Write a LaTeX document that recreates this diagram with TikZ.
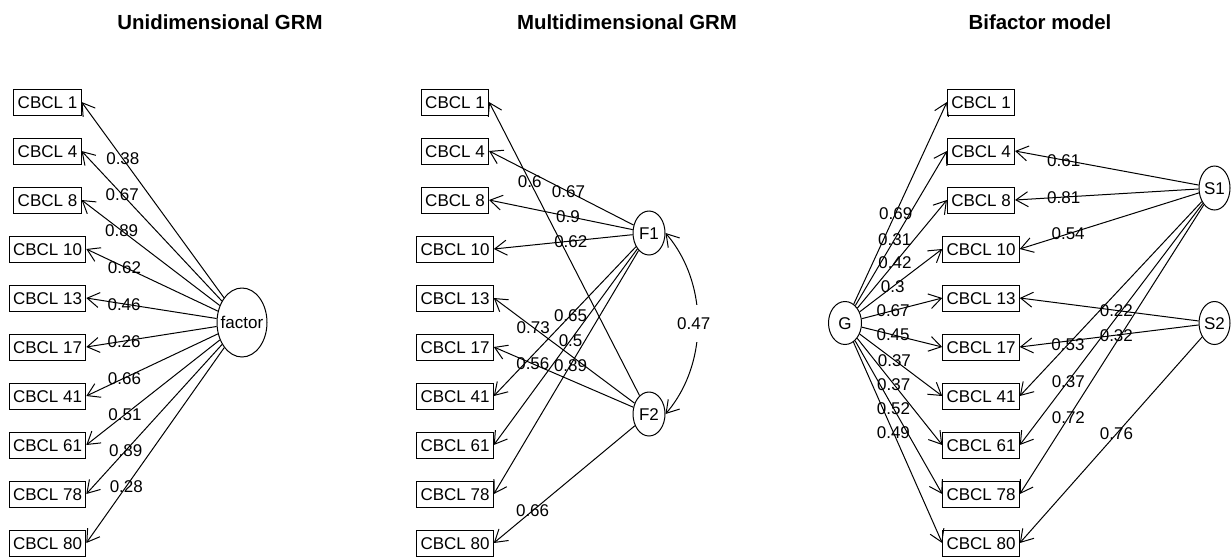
\documentclass[tikz,border=0pt]{standalone}
\usepackage{fontspec}
\setmainfont{Liberation Sans}
\usetikzlibrary{arrows.meta,shapes.geometric}
\begin{document}
\begin{tikzpicture}[x=1pt,y=-1pt,
  item/.style={draw, line width=1pt, rectangle, minimum height=26pt, inner xsep=3.8pt, inner ysep=0pt, text height=12.2pt, text depth=0pt, font=\fontsize{17}{20}\selectfont},
  lat/.style={draw, line width=1pt, ellipse, inner sep=0pt, text height=12.2pt, text depth=0pt, font=\fontsize{17}{20}\selectfont},
  load/.style={line width=1pt, -{Straight Barb[length=12pt,width=15pt]}},
  cov/.style={line width=1pt, {Straight Barb[length=12pt,width=15pt]}-{Straight Barb[length=12pt,width=15pt]}},
  lab/.style={inner sep=0pt, text height=12.2pt, text depth=0pt, font=\fontsize{17}{20}\selectfont},
  ttl/.style={anchor=base, inner sep=0pt, font=\fontsize{20.4}{24}\selectfont\bfseries},
]
\useasboundingbox (0,0) rectangle (1231,557);

% titles
\node[ttl] (t1) at (220,29) {Unidimensional GRM};
\node[ttl] (t2) at (627,29) {Multidimensional GRM};
\node[ttl] (t3) at (1040,29) {Bifactor model};

% ---------- left panel ----------
\node[item] (u1)  at (47.5,102) {CBCL 1};
\node[item] (u4)  at (47.5,151) {CBCL 4};
\node[item] (u8)  at (47.5,200) {CBCL 8};
\node[item] (u10) at (47.5,249) {CBCL 10};
\node[item] (u13) at (47.5,298) {CBCL 13};
\node[item] (u17) at (47.5,347) {CBCL 17};
\node[item] (u41) at (47.5,396) {CBCL 41};
\node[item] (u61) at (47.5,445) {CBCL 61};
\node[item] (u78) at (47.5,494) {CBCL 78};
\node[item] (u80) at (47.5,543) {CBCL 80};
\node[lat, minimum width=50pt, minimum height=69pt] (fac) at (242,322.5) {\makebox[0pt]{factor}};

\draw[load] (fac) -- node[lab,pos=0.71]{0.38} (u1.east);
\draw[load] (fac) -- node[lab,pos=0.71]{0.67} (u4.east);
\draw[load] (fac) -- node[lab,pos=0.71]{0.89} (u8.east);
\draw[load] (fac) -- node[lab,pos=0.71]{0.62} (u10.east);
\draw[load] (fac) -- node[lab,pos=0.71]{0.46} (u13.east);
\draw[load] (fac) -- node[lab,pos=0.71]{0.26} (u17.east);
\draw[load] (fac) -- node[lab,pos=0.71]{0.66} (u41.east);
\draw[load] (fac) -- node[lab,pos=0.71]{0.51} (u61.east);
\draw[load] (fac) -- node[lab,pos=0.71]{0.89} (u78.east);
\draw[load] (fac) -- node[lab,pos=0.71]{0.28} (u80.east);

% ---------- middle panel ----------
\node[item] (m1)  at (455,102) {CBCL 1};
\node[item] (m4)  at (455,151) {CBCL 4};
\node[item] (m8)  at (455,200) {CBCL 8};
\node[item] (m10) at (455,249) {CBCL 10};
\node[item] (m13) at (455,298) {CBCL 13};
\node[item] (m17) at (455,347) {CBCL 17};
\node[item] (m41) at (455,396) {CBCL 41};
\node[item] (m61) at (455,445) {CBCL 61};
\node[item] (m78) at (455,494) {CBCL 78};
\node[item] (m80) at (455,543) {CBCL 80};
\node[lat, minimum width=32pt, minimum height=44pt] (F1) at (649,233) {\makebox[0pt]{F1}};
\node[lat, minimum width=32pt, minimum height=44pt] (F2) at (649,414) {\makebox[0pt]{F2}};

\draw[load] (F1) -- node[lab,pos=0.45]{0.67} (m4.east);
\draw[load] (F1) -- node[lab,pos=0.45]{0.9} (m8.east);
\draw[load] (F1) -- node[lab,pos=0.445]{0.62} (m10.east);
\draw[load] (F1) -- node[lab,pos=0.46]{0.65} (m41.east);
\draw[load] (F1) -- node[lab,pos=0.465]{0.5} (m61.east);
\draw[load] (F1) -- node[lab,pos=0.47]{0.89} (m78.east);
\draw[load] (F2) -- node[lab,pos=0.73]{0.6} (m1.east);
\draw[load] (F2) -- node[lab,pos=0.72]{0.73} (m13.east);
\draw[load] (F2) -- node[lab,pos=0.72]{0.56} (m17.east);
\draw[load] (F2) -- node[lab,pos=0.725]{0.66} (m80.east);
\draw[cov] (F1.east) .. controls +(43,50) and +(43,-50) .. node[lab,pos=0.5,fill=white,inner xsep=1pt,inner ysep=12pt,xshift=-4pt]{0.47} (F2.east);

% ---------- right panel ----------
\node[item] (b1)  at (981,102) {CBCL 1};
\node[item] (b4)  at (981,151) {CBCL 4};
\node[item] (b8)  at (981,200) {CBCL 8};
\node[item] (b10) at (981,249) {CBCL 10};
\node[item] (b13) at (981,298) {CBCL 13};
\node[item] (b17) at (981,347) {CBCL 17};
\node[item] (b41) at (981,396) {CBCL 41};
\node[item] (b61) at (981,445) {CBCL 61};
\node[item] (b78) at (981,494) {CBCL 78};
\node[item] (b80) at (981,543) {CBCL 80};
\node[lat, minimum width=33pt, minimum height=43pt] (G) at (845,323) {\makebox[0pt]{G}};
\node[lat, minimum width=31pt, minimum height=44pt] (S1) at (1214.5,188) {\makebox[0pt]{S1}};
\node[lat, minimum width=31pt, minimum height=43pt] (S2) at (1214.5,323) {\makebox[0pt]{S2}};

\draw[load] (G) -- node[lab,pos=0.45]{0.69} (b1.west);
\draw[load] (G) -- node[lab,pos=0.43]{0.31} (b4.west);
\draw[load] (G) -- node[lab,pos=0.42]{0.42} (b8.west);
\draw[load] (G) -- node[lab,pos=0.40]{0.3} (b10.west);
\draw[load] (G) -- node[lab,pos=0.39]{0.67} (b13.west);
\draw[load] (G) -- node[lab,pos=0.39]{0.45} (b17.west);
\draw[load] (G) -- node[lab,pos=0.42]{0.37} (b41.west);
\draw[load] (G) -- node[lab,pos=0.43]{0.37} (b61.west);
\draw[load] (G) -- node[lab,pos=0.44]{0.52} (b78.west);
\draw[load] (G) -- node[lab,pos=0.45]{0.49} (b80.west);

\draw[load] (S1) -- node[lab,pos=0.735]{0.61} (b4.east);
\draw[load] (S1) -- node[lab,pos=0.735]{0.81} (b8.east);
\draw[load] (S1) -- node[lab,pos=0.73]{0.54} (b10.east);
\draw[load] (S1) -- node[lab,pos=0.735]{0.53} (b41.east);
\draw[load] (S1) -- node[lab,pos=0.735]{0.37} (b61.east);
\draw[load] (S1) -- node[lab,pos=0.736]{0.72} (b78.east);

\draw[load] (S2) -- node[lab,pos=0.46]{0.22} (b13.east);
\draw[load] (S2) -- node[lab,pos=0.46]{0.32} (b17.east);
\draw[load] (S2) -- node[lab,pos=0.47]{0.76} (b80.east);
\end{tikzpicture}
\end{document}
